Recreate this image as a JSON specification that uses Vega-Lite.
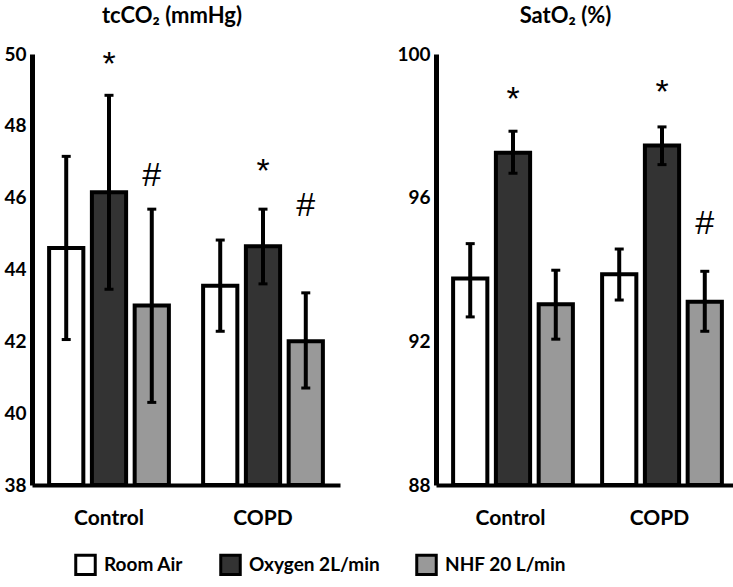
{
  "$schema": "https://vega.github.io/schema/vega-lite/v6.json",
  "padding": {"left": 3, "top": 5, "right": 0, "bottom": 0},
  "background": "white",
  "config": {
    "font": "Lato",
    "view": {"stroke": null},
    "axis": {"grid": false, "ticks": false, "domainColor": "black", "domainWidth": 5, "labelColor": "black", "labelFont": "Lato", "labelFontWeight": "bold", "labelFontSize": 19, "title": null},
    "title": {"font": "Lato", "fontSize": 22, "fontWeight": "bold", "color": "black", "offset": 17, "anchor": "middle", "frame": "bounds"}
  },
  "datasets": {
    "tcco2": [
      {"group": "Control", "condition": "Room Air", "mean": 44.6, "lo": 42.05, "hi": 47.15},
      {"group": "Control", "condition": "Oxygen 2L/min", "mean": 46.15, "lo": 43.45, "hi": 48.85},
      {"group": "Control", "condition": "NHF 20 L/min", "mean": 43.0, "lo": 40.3, "hi": 45.68},
      {"group": "COPD", "condition": "Room Air", "mean": 43.55, "lo": 42.28, "hi": 44.82},
      {"group": "COPD", "condition": "Oxygen 2L/min", "mean": 44.65, "lo": 43.6, "hi": 45.68},
      {"group": "COPD", "condition": "NHF 20 L/min", "mean": 42.0, "lo": 40.7, "hi": 43.35}
    ],
    "sato2": [
      {"group": "Control", "condition": "Room Air", "mean": 93.75, "lo": 92.68, "hi": 94.72},
      {"group": "Control", "condition": "Oxygen 2L/min", "mean": 97.25, "lo": 96.68, "hi": 97.85},
      {"group": "Control", "condition": "NHF 20 L/min", "mean": 93.03, "lo": 92.06, "hi": 93.98},
      {"group": "COPD", "condition": "Room Air", "mean": 93.87, "lo": 93.15, "hi": 94.57},
      {"group": "COPD", "condition": "Oxygen 2L/min", "mean": 97.45, "lo": 96.92, "hi": 97.97},
      {"group": "COPD", "condition": "NHF 20 L/min", "mean": 93.1, "lo": 92.28, "hi": 93.95}
    ],
    "tcco2_sig": [
      {"group": "Control", "condition": "Oxygen 2L/min", "sig": "*", "pos": 49.68},
      {"group": "Control", "condition": "NHF 20 L/min", "sig": "#", "pos": 46.6},
      {"group": "COPD", "condition": "Oxygen 2L/min", "sig": "*", "pos": 46.72},
      {"group": "COPD", "condition": "NHF 20 L/min", "sig": "#", "pos": 45.78}
    ],
    "sato2_sig": [
      {"group": "Control", "condition": "Oxygen 2L/min", "sig": "*", "pos": 98.72},
      {"group": "COPD", "condition": "Oxygen 2L/min", "sig": "*", "pos": 98.92},
      {"group": "COPD", "condition": "NHF 20 L/min", "sig": "#", "pos": 95.28}
    ]
  },
  "spacing": 56,
  "resolve": {"scale": {"y": "independent", "color": "shared"}, "legend": {"color": "shared"}},
  "hconcat": [
    {
      "width": 308,
      "height": 431,
      "title": {"text": "tcCO₂ (mmHg)"},
      "encoding": {
        "x": {"field": "group", "type": "nominal", "sort": ["Control", "COPD"], "scale": {"domain": ["Control", "COPD"], "paddingInner": 0, "paddingOuter": 0}, "axis": {"labelAngle": 0, "labelPadding": 22, "labelFontSize": 21, "domainWidth": 4}},
        "xOffset": {"field": "condition", "type": "nominal", "scale": {"domain": ["Room Air", "Oxygen 2L/min", "NHF 20 L/min"], "paddingInner": 0.2, "paddingOuter": 0.4}}
      },
      "layer": [
        {
          "data": {"name": "tcco2"},
          "mark": {"type": "bar", "stroke": "black", "strokeWidth": 4},
          "encoding": {
            "y": {"field": "mean", "type": "quantitative", "scale": {"domain": [38, 50], "nice": false, "zero": false}, "axis": {"values": [38, 40, 42, 44, 46, 48, 50], "labelPadding": 6}},
            "y2": {"datum": 38},
            "color": {"field": "condition", "type": "nominal", "scale": {"domain": ["Room Air", "Oxygen 2L/min", "NHF 20 L/min"], "range": ["#ffffff", "#333333", "#999999"]},
              "legend": {"orient": "none", "legendX": 42, "legendY": 499, "direction": "horizontal", "title": null, "symbolType": "square", "symbolSize": 380, "symbolStrokeColor": "black", "symbolStrokeWidth": 3, "labelFontSize": 19, "labelFontWeight": "bold", "labelFont": "Lato", "labelColor": "black", "columnPadding": 30, "labelOffset": 7}}
          }
        },
        {
          "data": {"name": "tcco2"},
          "mark": {"type": "rule", "color": "black", "strokeWidth": 4},
          "encoding": {"y": {"field": "lo", "type": "quantitative"}, "y2": {"field": "hi"}}
        },
        {
          "data": {"name": "tcco2"},
          "mark": {"type": "tick", "color": "black", "thickness": 3, "size": 9, "orient": "horizontal", "opacity": 1},
          "encoding": {"y": {"field": "lo", "type": "quantitative"}}
        },
        {
          "data": {"name": "tcco2"},
          "mark": {"type": "tick", "color": "black", "thickness": 3, "size": 9, "orient": "horizontal", "opacity": 1},
          "encoding": {"y": {"field": "hi", "type": "quantitative"}}
        },
        {
          "data": {"name": "tcco2_sig"},
          "mark": {"type": "text", "fontSize": 34, "font": "Liberation Sans", "baseline": "middle", "color": "black"},
          "encoding": {"y": {"field": "pos", "type": "quantitative"}, "text": {"field": "sig"}}
        }
      ]
    },
    {
      "width": 298,
      "height": 431,
      "title": {"text": "SatO₂ (%)"},
      "encoding": {
        "x": {"field": "group", "type": "nominal", "sort": ["Control", "COPD"], "scale": {"domain": ["Control", "COPD"], "paddingInner": 0, "paddingOuter": 0}, "axis": {"labelAngle": 0, "labelPadding": 22, "labelFontSize": 21, "domainWidth": 4}},
        "xOffset": {"field": "condition", "type": "nominal", "scale": {"domain": ["Room Air", "Oxygen 2L/min", "NHF 20 L/min"], "paddingInner": 0.2, "paddingOuter": 0.4}}
      },
      "layer": [
        {
          "data": {"name": "sato2"},
          "mark": {"type": "bar", "stroke": "black", "strokeWidth": 4},
          "encoding": {
            "y": {"field": "mean", "type": "quantitative", "scale": {"domain": [88, 100], "nice": false, "zero": false}, "axis": {"values": [88, 92, 96, 100], "labelPadding": 6}},
            "y2": {"datum": 88},
            "color": {"field": "condition", "type": "nominal", "scale": {"domain": ["Room Air", "Oxygen 2L/min", "NHF 20 L/min"], "range": ["#ffffff", "#333333", "#999999"]},
              "legend": {"orient": "none", "legendX": 42, "legendY": 499, "direction": "horizontal", "title": null, "symbolType": "square", "symbolSize": 380, "symbolStrokeColor": "black", "symbolStrokeWidth": 3, "labelFontSize": 19, "labelFontWeight": "bold", "labelFont": "Lato", "labelColor": "black", "columnPadding": 30, "labelOffset": 7}}
          }
        },
        {
          "data": {"name": "sato2"},
          "mark": {"type": "rule", "color": "black", "strokeWidth": 4},
          "encoding": {"y": {"field": "lo", "type": "quantitative"}, "y2": {"field": "hi"}}
        },
        {
          "data": {"name": "sato2"},
          "mark": {"type": "tick", "color": "black", "thickness": 3, "size": 9, "orient": "horizontal", "opacity": 1},
          "encoding": {"y": {"field": "lo", "type": "quantitative"}}
        },
        {
          "data": {"name": "sato2"},
          "mark": {"type": "tick", "color": "black", "thickness": 3, "size": 9, "orient": "horizontal", "opacity": 1},
          "encoding": {"y": {"field": "hi", "type": "quantitative"}}
        },
        {
          "data": {"name": "sato2_sig"},
          "mark": {"type": "text", "fontSize": 34, "font": "Liberation Sans", "baseline": "middle", "color": "black"},
          "encoding": {"y": {"field": "pos", "type": "quantitative"}, "text": {"field": "sig"}}
        }
      ]
    }
  ]
}
